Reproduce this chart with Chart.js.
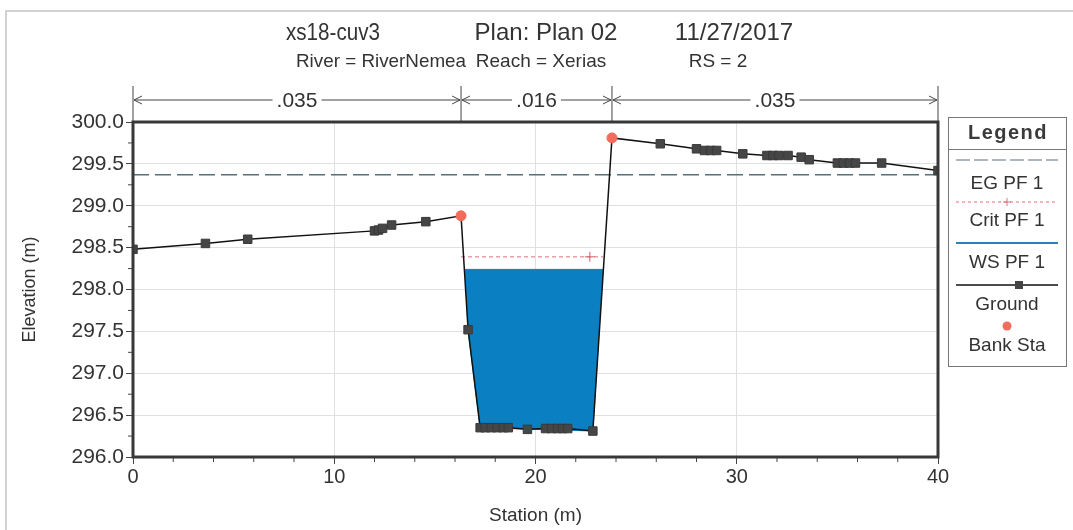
<!DOCTYPE html>
<html>
<head>
<meta charset="utf-8">
<script src="https://cdn.jsdelivr.net/npm/chart.js@4"></script>
<style>
  html, body { margin: 0; padding: 0; background: #fff; }
  #wrap { width: 1073px; height: 530px; }
</style>
</head>
<body>
<div id="wrap"><canvas id="xs" width="1073" height="530"></canvas></div>
<script>
// ── DATA ──────────────────────────────────────────────────────
const groundSta  = [0, 3.6, 5.7, 12.0, 12.2, 12.4, 12.85, 14.55, 16.3, 16.65, 17.25, 17.5, 17.8, 18.1, 18.4, 18.65,
                    19.6, 20.5, 20.8, 21.1, 21.35, 21.6, 22.85, 23.8, 26.2, 28.0, 28.4, 28.7, 29.0, 30.3,
                    31.5, 31.8, 32.1, 32.55, 33.2, 33.6, 35.0, 35.3, 35.6, 35.9, 37.2, 40];
const groundElev = [298.48, 298.55, 298.60, 298.70, 298.71, 298.73, 298.77, 298.81, 298.88, 297.52, 296.35, 296.35,
                    296.35, 296.35, 296.35, 296.35, 296.33, 296.34, 296.34, 296.34, 296.34, 296.34, 296.31, 299.81,
                    299.74, 299.68, 299.66, 299.66, 299.66, 299.62, 299.60, 299.60, 299.60, 299.60, 299.58, 299.55,
                    299.51, 299.51, 299.51, 299.51, 299.51, 299.42];
const bankSta  = [16.3, 23.8];
const bankElev = [298.88, 299.81];

// water surface polygon (WS PF 1 = 298.24)
const wsSta  = [16.5, 23.35, 22.85, 17.25, 16.65, 16.5];
const wsElev = [298.24, 298.24, 296.31, 296.35, 297.52, 298.24];

const critSta  = [16.3, 22.7, 23.35];
const critElev = [298.39, 298.39, 298.39];

const egSta  = [0, 40];
const egElev = [299.37, 299.37];

// Manning's n regions
const nBreaks = [0, 16.3, 23.8, 40];
const nValues = ['.035', '.016', '.035'];

const titleParts = ['xs18-cuv3', 'Plan: Plan 02', '11/27/2017'];
const subParts   = ['River = RiverNemea', 'Reach = Xerias', 'RS = 2'];
const legendItems = ['EG PF 1', 'Crit PF 1', 'WS PF 1', 'Ground', 'Bank Sta'];

const pts = (xs, ys) => xs.map((x, i) => ({ x: x, y: ys[i] }));
const TXT  = '#333';
const FONT = '"Liberation Sans", Arial, sans-serif';

// ── PLUGIN: titles, n-values, minor ticks, frame, legend ─────
const decor = {
  id: 'decor',
  beforeDraw(chart) {
    const c = chart.ctx;
    c.save();
    c.strokeStyle = '#c4c4c4';
    c.lineWidth = 1.5;
    c.beginPath();
    c.moveTo(6, 530); c.lineTo(6, 11); c.lineTo(1073, 11);
    c.stroke();
    c.restore();
  },
  afterDraw(chart) {
    const c  = chart.ctx;
    const a  = chart.chartArea;
    const xs = chart.scales.x, ys = chart.scales.y;
    c.save();

    // titles
    c.fillStyle = TXT;
    c.textAlign = 'center';
    c.textBaseline = 'middle';
    c.font = '24px ' + FONT;
    const tx = [333, 546, 734], tw = [94, 160, 133];
    titleParts.forEach((t, i) => c.fillText(t, tx[i], 33, tw[i]));
    c.font = '19px ' + FONT;
    const sx = [381, 541, 718], sw = [170, 138, 76];
    subParts.forEach((t, i) => c.fillText(t, sx[i], 62, sw[i]));

    // Manning's n arrows
    c.strokeStyle = '#444';
    c.lineWidth = 1;
    const ay = 100;
    const bx = nBreaks.map(v => xs.getPixelForValue(v));
    bx.forEach(x => { c.beginPath(); c.moveTo(x, 86); c.lineTo(x, a.top); c.stroke(); });
    c.font = '21px ' + FONT;
    nValues.forEach((t, i) => {
      const x0 = bx[i] + 1, x1 = bx[i + 1] - 1, mid = (x0 + x1) / 2;
      const hw = c.measureText(t).width / 2 + 4;
      c.beginPath();
      c.moveTo(x0, ay); c.lineTo(mid - hw, ay);
      c.moveTo(mid + hw, ay); c.lineTo(x1, ay);
      c.stroke();
      [[x0, 1], [x1, -1]].forEach(([x, d]) => {
        c.beginPath();
        c.moveTo(x + d * 8, ay - 4); c.lineTo(x, ay); c.lineTo(x + d * 8, ay + 4);
        c.stroke();
      });
      c.fillText(t, mid, ay + 1);
    });

    // minor ticks
    c.strokeStyle = '#444';
    c.lineWidth = 1;
    for (let v = 2; v < 40; v += 2) {
      if (v % 10 === 0) continue;
      const x = xs.getPixelForValue(v);
      c.beginPath(); c.moveTo(x, a.bottom); c.lineTo(x, a.bottom + 5); c.stroke();
    }
    for (let v = 296.25; v < 300; v += 0.5) {
      const y = ys.getPixelForValue(v);
      c.beginPath(); c.moveTo(a.left, y); c.lineTo(a.left - 5, y); c.stroke();
    }

    // plot frame
    c.strokeStyle = '#383838';
    c.lineWidth = 3;
    c.strokeRect(a.left, a.top, a.right - a.left, a.bottom - a.top);

    // legend box
    const lx = 948, lw = 118, ly = 117, lh = 249;
    c.strokeStyle = '#777';
    c.lineWidth = 1;
    c.strokeRect(lx + 0.5, ly + 0.5, lw, lh);
    c.beginPath(); c.moveTo(lx, 149.5); c.lineTo(lx + lw, 149.5); c.stroke();
    c.fillStyle = '#3a3a3a';
    c.font = 'bold 20px ' + FONT;
    c.letterSpacing = '1.5px';
    c.fillText('Legend', lx + lw / 2 + 1, 133);
    c.letterSpacing = '0px';

    const l0 = lx + 8, l1 = lx + lw - 8, lm = lx + lw / 2;
    // EG
    c.strokeStyle = '#5a6f78'; c.lineWidth = 1.2; c.setLineDash([14, 4]);
    c.beginPath(); c.moveTo(l0, 160); c.lineTo(l1, 160); c.stroke();
    // Crit
    c.strokeStyle = '#e0707a'; c.lineWidth = 1; c.setLineDash([3, 3]);
    c.beginPath(); c.moveTo(l0, 202); c.lineTo(l1, 202); c.stroke();
    c.setLineDash([]);
    c.beginPath(); c.moveTo(lm, 198); c.lineTo(lm, 206); c.moveTo(lm - 4, 202); c.lineTo(lm + 4, 202); c.stroke();
    // WS
    c.strokeStyle = '#2b80b8'; c.lineWidth = 2;
    c.beginPath(); c.moveTo(l0, 243); c.lineTo(l1, 243); c.stroke();
    // Ground
    c.strokeStyle = '#111'; c.lineWidth = 1.5;
    c.beginPath(); c.moveTo(l0, 285); c.lineTo(l1, 285); c.stroke();
    c.fillStyle = '#444';
    c.fillRect(lm + 8, 281, 8, 8);
    // Bank
    c.fillStyle = '#f26b5b';
    c.beginPath(); c.arc(lm, 326, 4.5, 0, Math.PI * 2); c.fill();

    c.fillStyle = TXT;
    c.font = '19px ' + FONT;
    const ty = [184, 221, 263, 305, 346];
    legendItems.forEach((t, i) => c.fillText(t, lm, ty[i], lw - 10));

    c.restore();
  }
};

// ── CHART ─────────────────────────────────────────────────────
new Chart(document.getElementById('xs'), {
  type: 'scatter',
  data: {
    datasets: [
      {
        label: 'Bank Sta',
        data: pts(bankSta, bankElev),
        pointStyle: 'circle', pointRadius: 5,
        backgroundColor: '#f26b5b', borderColor: '#f26b5b',
        showLine: false, order: 0,
      },
      {
        label: 'Ground',
        data: pts(groundSta, groundElev),
        showLine: true, tension: 0,
        borderColor: '#111', borderWidth: 1.5,
        pointStyle: 'rect',
        pointRadius: ctx => bankSta.includes(groundSta[ctx.dataIndex]) ? 0 : 6,
        pointBackgroundColor: '#464646', pointBorderColor: '#3a3a3a', pointBorderWidth: 1,
        order: 1,
      },
      {
        label: 'Crit PF 1',
        data: pts(critSta, critElev),
        showLine: true,
        borderColor: '#e0707a', borderWidth: 1, borderDash: [4, 3],
        pointStyle: 'cross', pointRadius: [0, 5, 0],
        pointBorderColor: '#d0606a', pointBorderWidth: 1,
        order: 2,
      },
      {
        label: 'WS PF 1',
        data: pts(wsSta, wsElev),
        showLine: true, fill: 'shape',
        borderColor: '#0a80c2', borderWidth: 1,
        backgroundColor: '#0a80c2',
        pointRadius: 0,
        order: 3,
      },
      {
        label: 'EG PF 1',
        data: pts(egSta, egElev),
        showLine: true,
        borderColor: '#56707a', borderWidth: 1.3, borderDash: [16, 6],
        pointRadius: 0,
        order: 4,
      },
    ],
  },
  options: {
    responsive: false, animation: false,
    layout: { padding: { top: 122, right: 135, left: 0, bottom: 0 } },
    plugins: { legend: { display: false }, tooltip: { enabled: false } },
    scales: {
      x: {
        type: 'linear', min: 0, max: 40,
        afterFit: s => { s.height = 73; },
        ticks: { stepSize: 10, color: TXT, font: { family: FONT, size: 20 }, padding: 1 },
        grid: { color: '#e0e0e0', tickColor: '#444', tickLength: 7 },
        border: { display: false },
        title: { display: true, text: 'Station (m)', color: TXT, font: { family: FONT, size: 19 }, padding: { top: 0, bottom: 3 } },
      },
      y: {
        type: 'linear', min: 296, max: 300,
        afterFit: s => { s.width = 133; },
        ticks: { stepSize: 0.5, color: TXT, font: { family: FONT, size: 21 }, padding: 2, callback: v => v.toFixed(1) },
        grid: { color: '#e0e0e0', tickColor: '#444', tickLength: 7 },
        border: { display: false },
        title: { display: true, text: 'Elevation (m)', color: TXT, font: { family: FONT, size: 18 }, padding: { top: 19, bottom: 0 } },
      },
    },
  },
  plugins: [decor],
});
</script>
</body>
</html>
